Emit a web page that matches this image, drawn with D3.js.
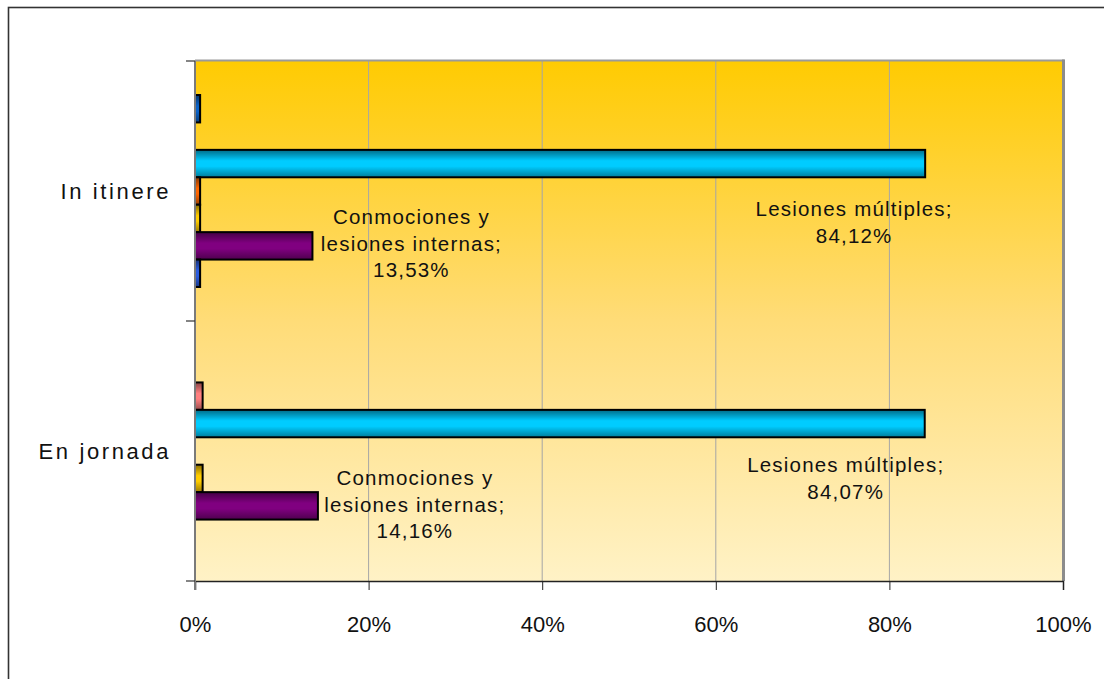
<!DOCTYPE html>
<html><head><meta charset="utf-8">
<script src="https://cdn.jsdelivr.net/npm/d3@7"></script>
<style>body{margin:0;background:#fff} svg{display:block}</style>
</head><body><svg id="c" width="1104" height="679"></svg>
<script>
// ---------- data ----------
const categories = ["In itinere", "En jornada"];
const seriesNames = [
  "Otras lesiones",
  "Infartos, derrames cerebrales y otras patologías no traumáticas",
  "Lesiones múltiples",
  "Ahogamientos y asfixias",
  "Quemaduras, escaldaduras y congelación",
  "Conmociones y lesiones internas",
  "Fracturas de huesos"
];
const inItinereValues = [0.59, 0, 84.12, 0.59, 0.59, 13.53, 0.59];
const enJornadaValues = [0, 0.88, 84.07, 0, 0.88, 14.16, 0];
const xTickValues = [0, 20, 40, 60, 80, 100];
const xTickLabels = ["0%", "20%", "40%", "60%", "80%", "100%"];
const labelledSeries = ["Conmociones y lesiones internas", "Lesiones múltiples"];
const labelTextLines = [["Conmociones y", "lesiones internas;"], ["Lesiones múltiples;"]];

// ---------- layout / style ----------
const W = 1104, H = 679;
const plot = {left: 195, right: 1063, top: 61, bottom: 581};
const seriesColors = ["#0a62c8", "#ff8080", "#00ccff", "#ff6600", "#ffcc00", "#800080", "#2a5ce0"];
// label offsets relative to bar end (dx) and bar centre (dy of first line), per category
const labelOffsets = {
  "In itinere|Conmociones y lesiones internas": {dx: 99, dy: -29},
  "En jornada|Conmociones y lesiones internas": {dx: 97, dy: -28},
  "In itinere|Lesiones múltiples": {dx: -71, dy: 45.5},
  "En jornada|Lesiones múltiples": {dx: -79, dy: 41.5}
};
const lineH = 26.5;
const fontFam = "'Liberation Sans', Arial, sans-serif";

const valuesByCat = {"In itinere": inItinereValues, "En jornada": enJornadaValues};
const rows = [];
categories.forEach(c => seriesNames.forEach((s, i) => rows.push({cat: c, series: s, idx: i, value: valuesByCat[c][i]})));

const svg = d3.select("#c");
svg.append("rect").attr("width", W).attr("height", H).attr("fill", "#fff");

const defs = svg.append("defs");
const bg = defs.append("linearGradient").attr("id", "bg").attr("x1", 0).attr("y1", 0).attr("x2", 0).attr("y2", 1);
[[0, "#ffcb02"], [0.5, "#ffdc78"], [1, "#fff2c6"]].forEach(([o, c]) => bg.append("stop").attr("offset", o).attr("stop-color", c));
seriesColors.forEach((c, i) => {
  const g = defs.append("linearGradient").attr("id", "bar" + i).attr("x1", 0).attr("y1", 0).attr("x2", 0).attr("y2", 1);
  const base = d3.color(c);
  [[0, base.darker(1.8)], [0.4, base], [0.6, base], [1, base.darker(1.4)]]
    .forEach(([o, col]) => g.append("stop").attr("offset", o).attr("stop-color", col.formatHex()));
});

// outer border
svg.append("rect").attr("x", 8.5).attr("y", 7.5).attr("width", W).attr("height", H)
  .attr("fill", "none").attr("stroke", "#333").attr("stroke-width", 1.6);

const x = d3.scaleLinear().domain([0, 100]).range([plot.left, plot.right]);
const y = d3.scaleBand().domain(categories).range([plot.top, plot.bottom]).paddingInner(0).paddingOuter(0);
const yInner = d3.scaleBand().domain(seriesNames).range([0, y.bandwidth()]).paddingInner(0).paddingOuter(1.24);

// plot background
svg.append("rect").attr("x", plot.left).attr("y", plot.top)
  .attr("width", plot.right - plot.left).attr("height", plot.bottom - plot.top).attr("fill", "url(#bg)");

// gridlines
svg.append("g").selectAll("line").data(xTickValues.filter(v => v > 0 && v < 100)).join("line")
  .attr("x1", d => x(d)).attr("x2", d => x(d)).attr("y1", plot.top).attr("y2", plot.bottom)
  .attr("stroke", "#a6a6a6").attr("stroke-width", 1);

// frame top & right
svg.append("line").attr("x1", plot.left).attr("x2", plot.right + 1.5).attr("y1", plot.top - 0.5).attr("y2", plot.top - 0.5)
  .attr("stroke", "#9a9a9a").attr("stroke-width", 2);
svg.append("line").attr("x1", plot.right + 0.5).attr("x2", plot.right + 0.5).attr("y1", plot.top - 1.5).attr("y2", plot.bottom)
  .attr("stroke", "#8c8c8c").attr("stroke-width", 3);

// bars
svg.append("g").selectAll("rect").data(rows.filter(d => d.value > 0)).join("rect")
  .attr("x", x(0))
  .attr("y", d => y(d.cat) + yInner(d.series))
  .attr("width", d => x(d.value) - x(0))
  .attr("height", yInner.bandwidth())
  .attr("fill", d => `url(#bar${d.idx})`)
  .attr("stroke", "#000").attr("stroke-width", 2);

// axes
const xAxis = d3.axisBottom(x).tickValues(xTickValues).tickFormat((d, i) => xTickLabels[i]).tickSize(9).tickPadding(26);
const gx = svg.append("g").attr("transform", `translate(0,${plot.bottom})`).call(xAxis);
gx.select(".domain").attr("stroke", "#222").attr("stroke-width", 1.5);
gx.selectAll(".tick line").attr("stroke", "#222");
gx.selectAll("text").attr("font-family", fontFam).attr("font-size", 22).attr("fill", "#111");

const gy = svg.append("g").attr("transform", `translate(${plot.left},0)`);
gy.append("line").attr("x1", 0).attr("x2", 0).attr("y1", plot.top).attr("y2", plot.bottom + 9)
  .attr("stroke", "#7a7a7a").attr("stroke-width", 2);
gy.selectAll("line.tk").data([plot.top, ...categories.map(c => y(c) + y.bandwidth())]).join("line").attr("class", "tk")
  .attr("x1", -9).attr("x2", 0).attr("y1", d => d).attr("y2", d => d).attr("stroke", "#333").attr("stroke-width", 1.2);
gy.selectAll("text").data(categories).join("text")
  .attr("x", -24).attr("y", d => y(d) + y.bandwidth() / 2).attr("dy", "0.35em")
  .attr("text-anchor", "end").attr("font-family", fontFam).attr("font-size", 22)
  .attr("letter-spacing", 2.6).attr("fill", "#111").text(d => d);

// data labels
const fmt = v => d3.format(".2f")(v).replace(".", ",") + "%";
const labelRows = rows.filter(d => labelledSeries.includes(d.series));
const lg = svg.append("g").attr("font-family", fontFam).attr("font-size", 20.5).attr("letter-spacing", 1.2).attr("fill", "#111");
labelRows.forEach(d => {
  const off = labelOffsets[d.cat + "|" + d.series];
  const lines = labelTextLines[labelledSeries.indexOf(d.series)].concat([fmt(d.value)]);
  const cx = x(d.value) + off.dx;
  const cy = y(d.cat) + yInner(d.series) + yInner.bandwidth() / 2 + off.dy;
  lg.append("text").attr("text-anchor", "middle")
    .selectAll("tspan").data(lines).join("tspan")
    .attr("x", cx).attr("y", (l, i) => cy + i * lineH).attr("dy", "0.35em").text(l => l);
});
</script></body></html>
